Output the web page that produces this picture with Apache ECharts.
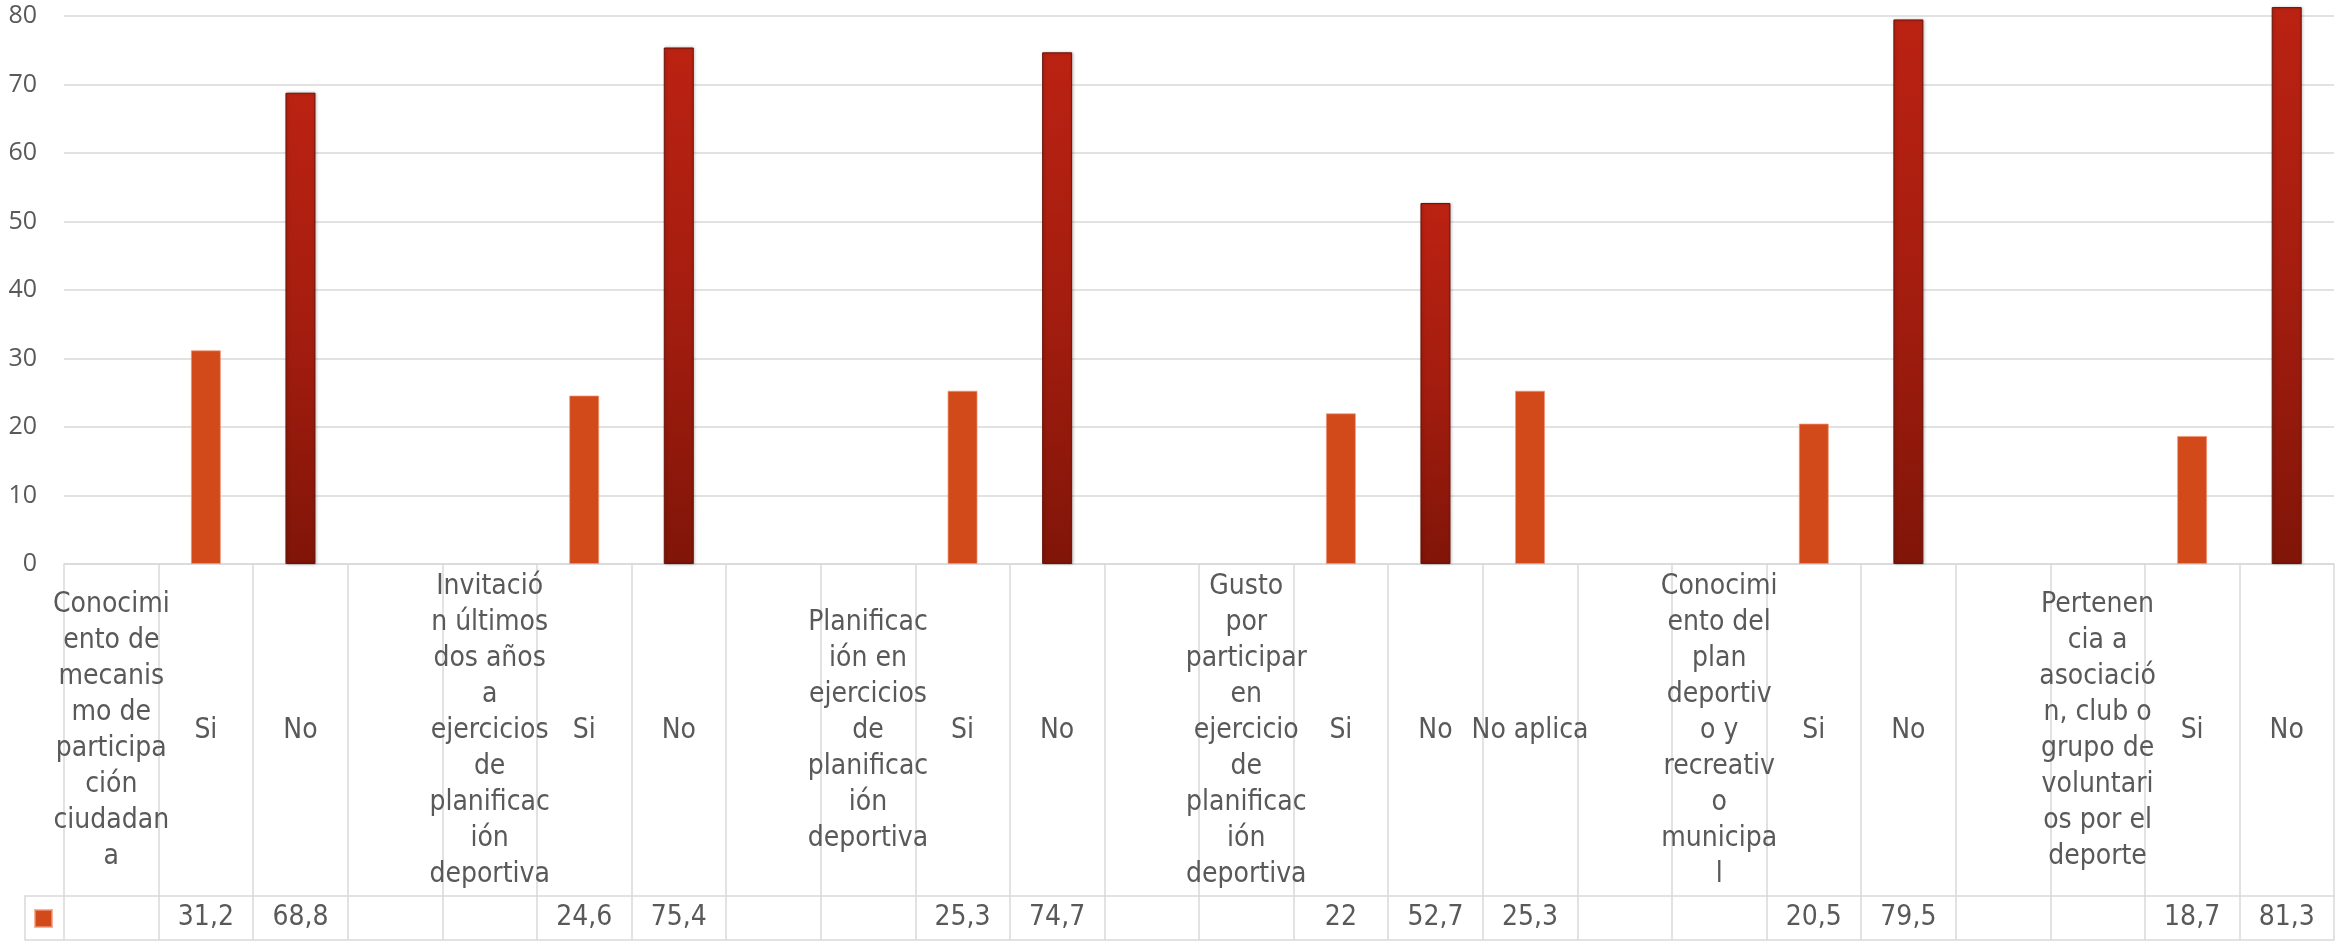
<!DOCTYPE html>
<html>
<head>
<meta charset="utf-8">
<title>Participación deportiva</title>
<script src="https://cdn.jsdelivr.net/npm/echarts@6/dist/echarts.min.js"></script>
<style>
  html, body { margin: 0; padding: 0; background: #fff; }
  #chart { width: 2343px; height: 943px; }
</style>
</head>
<body>
<div id="chart"></div>
<script>
// categorias de la tabla (saltos de linea como en la tabla original)
var categories = [
    'Conocimi\nento de\nmecanis\nmo de\nparticipa\nción\nciudadan\na', 'Si', 'No', '',
    'Invitació\nn últimos\ndos años\na\nejercicios\nde\nplanificac\nión\ndeportiva', 'Si', 'No', '',
    'Planificac\nión en\nejercicios\nde\nplanificac\nión\ndeportiva', 'Si', 'No', '',
    'Gusto\npor\nparticipar\nen\nejercicio\nde\nplanificac\nión\ndeportiva', 'Si', 'No', 'No aplica', '',
    'Conocimi\nento del\nplan\ndeportiv\no y\nrecreativ\no\nmunicipa\nl', 'Si', 'No', '',
    'Pertenen\ncia a\nasociació\nn, club o\ngrupo de\nvoluntari\nos por el\ndeporte', 'Si', 'No'
];
// porcentajes (null = celda vacia)
var values = [
    null, 31.2, 68.8, null,
    null, 24.6, 75.4, null,
    null, 25.3, 74.7, null,
    null, 22, 52.7, 25.3, null,
    null, 20.5, 79.5, null,
    null, 18.7, 81.3
];
var yMin = 0, yMax = 80, yStep = 10;

var Layout = {
    gridLeft: 64,
    gridTop: 16,
    gridRight: 9,
    gridBottom: 379,   // eje en y = 564
    catRow: 332,       // alto de la fila de categorias
    valRow: 44,        // alto de la fila de valores
    tableLeft: 25
};

var lineColor = '#d9d9d9';
var textColor = '#595959';
var tableFont = "'Liberation Sans Narrow', 'DejaVu Sans Condensed', sans-serif";

// barras "No" con degradado oscuro
var noStyle = {
    color: new echarts.graphic.LinearGradient(0, 0, 0, 1, [
        {offset: 0, color: '#bb2212'},
        {offset: 0.5, color: '#a41d0f'},
        {offset: 1, color: '#801508'}
    ]),
    borderColor: '#6a1207',
    borderWidth: 1,
    shadowColor: 'rgba(0,0,0,0.25)',
    shadowBlur: 3,
    shadowOffsetX: 1
};

var barData = values.map(function(v, i) {
    if (v == null) return null;
    if (categories[i] === 'No') return {value: v, itemStyle: noStyle};
    return v;
});

var valueLabels = values.map(function(v) {
    return v == null ? '' : String(v).replace('.', ',');
});

var axisY = 943 - Layout.gridBottom;
var row2Y = axisY + Layout.catRow;
var row3Y = row2Y + Layout.valRow;

var myChart = echarts.init(document.getElementById('chart'));
var option = {
    backgroundColor: '#ffffff',
    animation: false,
    grid: {
        left: Layout.gridLeft,
        top: Layout.gridTop,
        right: Layout.gridRight,
        bottom: Layout.gridBottom,
        outerBoundsMode: 'none'
    },
    legend: {
        left: 29,
        top: 904,
        itemWidth: 17,
        itemHeight: 17,
        icon: 'rect',
        formatter: function() { return ''; },
        data: ['Serie1']
    },
    xAxis: [
        {   // fila de categorias + lineas verticales de la tabla
            type: 'category',
            data: categories,
            position: 'bottom',
            axisLine: {lineStyle: {color: lineColor, width: 1.5}},
            axisTick: {show: true, interval: 0, length: Layout.catRow + Layout.valRow,
                lineStyle: {color: lineColor, width: 1.5}},
            axisLabel: {
                interval: 0,
                margin: Layout.catRow / 2 + 1,
                verticalAlign: 'middle',
                align: 'center',
                fontSize: 28,
                lineHeight: 36,
                color: textColor,
                fontFamily: tableFont
            },
            splitLine: {show: false}
        },
        {   // fila de valores
            type: 'category',
            data: valueLabels,
            position: 'bottom',
            offset: Layout.catRow,
            axisLine: {show: true, lineStyle: {color: lineColor, width: 1.5}},
            axisTick: {show: false},
            axisLabel: {
                interval: 0,
                margin: Layout.valRow / 2,
                verticalAlign: 'middle',
                fontSize: 28,
                color: textColor,
                fontFamily: tableFont
            },
            splitLine: {show: false}
        },
        {   // borde inferior de la tabla
            type: 'category',
            data: categories,
            position: 'bottom',
            offset: Layout.catRow + Layout.valRow,
            axisLine: {show: true, lineStyle: {color: lineColor, width: 1.5}},
            axisTick: {show: false},
            axisLabel: {show: false},
            splitLine: {show: false}
        }
    ],
    yAxis: {
        type: 'value',
        min: yMin,
        max: yMax,
        interval: yStep,
        axisLine: {show: false},
        axisTick: {show: false},
        axisLabel: {margin: 27, fontSize: 25, color: textColor, fontFamily: "'Open Sans', sans-serif"},
        splitLine: {lineStyle: {color: lineColor, width: 1.5}}
    },
    series: [{
        name: 'Serie1',
        type: 'bar',
        xAxisIndex: 0,
        barWidth: 30,
        clip: false,
        itemStyle: {color: '#d24a19', borderColor: 'rgba(240,150,120,0.7)', borderWidth: 1},
        data: barData
    }],
    // celda de la leyenda a la izquierda de la fila de valores
    graphic: [{
        type: 'polyline',
        shape: {points: [[Layout.gridLeft, row2Y], [Layout.tableLeft, row2Y],
            [Layout.tableLeft, row3Y], [Layout.gridLeft, row3Y]]},
        style: {stroke: lineColor, lineWidth: 1.5, fill: null},
        silent: true
    }]
};
myChart.setOption(option);
window.onresize = myChart.resize;
</script>
</body>
</html>
